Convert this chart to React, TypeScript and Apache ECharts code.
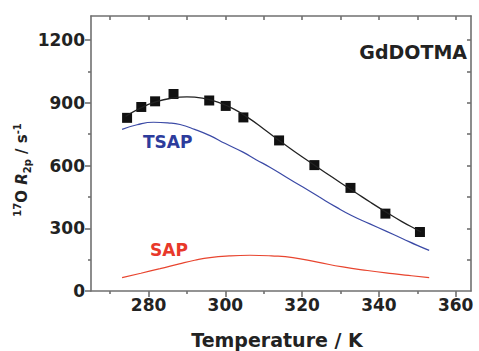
import React, { useEffect, useRef } from "react";
import * as echarts from "echarts";

// Measured data (black squares)
const measT = [274.4, 278.1, 281.7, 286.5, 295.8, 300.1, 304.7, 314.0, 323.2, 332.6, 341.7, 350.7];
const measR = [828, 880, 907, 942, 911, 885, 830, 720, 602, 493, 370, 282];

// Fit (black line)
const fitT = [274, 278, 282, 286, 290, 294, 298, 302, 306, 310, 314, 318, 322, 326, 330, 334, 338, 342, 346, 350, 351];
const fitR = [835, 876, 905, 922, 928, 922, 903, 872, 828, 775, 720, 667, 617, 567, 518, 470, 422, 376, 332, 292, 282];

// TSAP contribution (blue)
const tsapT = [273.1, 277, 281.3, 285, 288.2, 292, 296, 300, 304.6, 308, 311.6, 315.9, 320.2, 324.5, 328.9, 333, 337.5, 342, 346.2, 350, 353.1];
const tsapR = [773, 795, 807, 804, 796, 773, 743, 705, 664, 628, 592, 544, 497, 449, 401, 360, 322, 285, 250, 218, 194];

// SAP contribution (red)
const sapT = [273.1, 278, 283, 288, 292, 296, 301, 306.4, 312, 317.6, 324, 330.6, 337, 343.6, 348.5, 353.1];
const sapR = [64, 85, 107, 130, 147, 160, 168, 171, 168, 160, 138, 115, 98, 83, 73, 64];

const xMajor = [280, 300, 320, 340, 360];
const xMinor = [270, 290, 310, 330, 350];
const xAll = [270, 280, 290, 300, 310, 320, 330, 340, 350, 360];
const yMajor = [0, 300, 600, 900, 1200];
const yMinor = [150, 450, 750, 1050];
const yAll = [150, 300, 450, 600, 750, 900, 1050, 1200];

const X_MIN = 265;
const X_MAX = 364;
const Y_MIN = 0;
const Y_MAX = 1315;

const FONT = "DejaVu Sans";
const AXIS_COLOR = "#707070";
const LABEL_COLOR = "#222";

const zip = (a: number[], b: number[]) => a.map((v, i) => [v, b[i]]);

export default function App() {
  const ref = useRef<HTMLDivElement>(null);
  useEffect(() => {
    if (!ref.current) return;
    const chart = echarts.init(ref.current, undefined, { renderer: "svg" });
    const lineStyle = { color: AXIS_COLOR, width: 1.6 };
    const gridBox = { left: 91, top: 16, right: 8, bottom: 60 };
    const baseX = { type: "value", min: X_MIN, max: X_MAX, splitLine: { show: false } };
    const baseY = { type: "value", min: Y_MIN, max: Y_MAX, splitLine: { show: false } };
    chart.setOption({
      animation: false,
      backgroundColor: "#fff",
      grid: [gridBox, gridBox],
      xAxis: [
        {
          ...baseX,
          gridIndex: 0,
          position: "bottom",
          axisLine: { show: true, onZero: false, lineStyle },
          axisTick: { show: true, inside: false, length: 6, customValues: xMajor, lineStyle },
          axisLabel: {
            show: true,
            customValues: xMajor,
            margin: 5,
            fontFamily: FONT,
            fontWeight: "bold",
            fontSize: 17,
            color: LABEL_COLOR,
          },
        },
        {
          ...baseX,
          gridIndex: 0,
          position: "top",
          axisLine: { show: true, onZero: false, lineStyle },
          axisTick: { show: true, inside: true, length: 4, customValues: xAll, lineStyle },
          axisLabel: { show: false },
        },
        {
          ...baseX,
          gridIndex: 1,
          position: "bottom",
          axisLine: { show: false, onZero: false },
          axisTick: { show: true, inside: false, length: 3, customValues: xMinor, lineStyle },
          axisLabel: { show: false },
        },
      ],
      yAxis: [
        {
          ...baseY,
          gridIndex: 0,
          position: "left",
          axisLine: { show: true, onZero: false, lineStyle },
          axisTick: { show: true, inside: false, length: 6, customValues: yMajor, lineStyle },
          axisLabel: {
            show: true,
            customValues: yMajor,
            formatter: (v: number) => String(v),
            margin: 6,
            fontFamily: FONT,
            fontWeight: "bold",
            fontSize: 17,
            color: LABEL_COLOR,
          },
        },
        {
          ...baseY,
          gridIndex: 0,
          position: "right",
          axisLine: { show: true, onZero: false, lineStyle },
          axisTick: { show: true, inside: true, length: 4, customValues: yAll, lineStyle },
          axisLabel: { show: false },
        },
        {
          ...baseY,
          gridIndex: 1,
          position: "left",
          axisLine: { show: false, onZero: false },
          axisTick: { show: true, inside: false, length: 3, customValues: yMinor, lineStyle },
          axisLabel: { show: false },
        },
      ],
      series: [
        {
          type: "line",
          xAxisIndex: 0,
          yAxisIndex: 0,
          data: zip(sapT, sapR),
          smooth: true,
          showSymbol: false,
          lineStyle: { color: "#e8452f", width: 1.2 },
        },
        {
          type: "line",
          xAxisIndex: 0,
          yAxisIndex: 0,
          data: zip(tsapT, tsapR),
          smooth: true,
          showSymbol: false,
          lineStyle: { color: "#3b4aa6", width: 1.2 },
        },
        {
          type: "line",
          xAxisIndex: 0,
          yAxisIndex: 0,
          data: zip(fitT, fitR),
          smooth: true,
          showSymbol: false,
          lineStyle: { color: "#222", width: 1.3 },
        },
        {
          type: "scatter",
          xAxisIndex: 0,
          yAxisIndex: 0,
          data: zip(measT, measR),
          symbol: "rect",
          symbolSize: 10,
          itemStyle: { color: "#111", opacity: 1 },
        },
      ],
      graphic: [
        {
          type: "text",
          x: 467,
          y: 52,
          style: {
            text: "GdDOTMA",
            fontFamily: FONT,
            fontWeight: "bold",
            fontSize: 19,
            fill: "#222",
            textAlign: "right",
            textVerticalAlign: "middle",
          },
        },
        {
          type: "text",
          x: 143,
          y: 142,
          style: {
            text: "TSAP",
            fontFamily: FONT,
            fontWeight: "bold",
            fontSize: 17,
            fill: "#2d3c9c",
            textAlign: "left",
            textVerticalAlign: "middle",
          },
        },
        {
          type: "text",
          x: 150,
          y: 250,
          style: {
            text: "SAP",
            fontFamily: FONT,
            fontWeight: "bold",
            fontSize: 17,
            fill: "#e8382a",
            textAlign: "left",
            textVerticalAlign: "middle",
          },
        },
        {
          type: "text",
          x: 277,
          y: 340,
          style: {
            text: "Temperature / K",
            fontFamily: FONT,
            fontWeight: "bold",
            fontSize: 19,
            fill: "#222",
            textAlign: "center",
            textVerticalAlign: "middle",
          },
        },
        {
          type: "text",
          x: 22,
          y: 170,
          rotation: Math.PI / 2,
          style: {
            text: "{sup|17}{b|O }{i|R}{sub|2p}{b| / s}{sup|-1}",
            fontFamily: FONT,
            fontWeight: "bold",
            fontSize: 15,
            fill: "#222",
            textAlign: "center",
            textVerticalAlign: "middle",
            rich: {
              b: { fontFamily: FONT, fontWeight: "bold", fontSize: 15, lineHeight: 20, fill: "#222" },
              i: { fontFamily: FONT, fontWeight: "bold", fontStyle: "italic", fontSize: 15, lineHeight: 20, fill: "#222" },
              sup: { fontFamily: FONT, fontWeight: "bold", fontSize: 10, lineHeight: 10, verticalAlign: "top", fill: "#222" },
              sub: { fontFamily: FONT, fontWeight: "bold", fontSize: 10, lineHeight: 10, verticalAlign: "bottom", fill: "#222" },
            },
          },
        },
      ],
    });
    return () => chart.dispose();
  }, []);
  return (
    <div
      ref={ref}
      style={{ position: "fixed", left: 0, top: 0, width: 479, height: 351 }}
    />
  );
}
